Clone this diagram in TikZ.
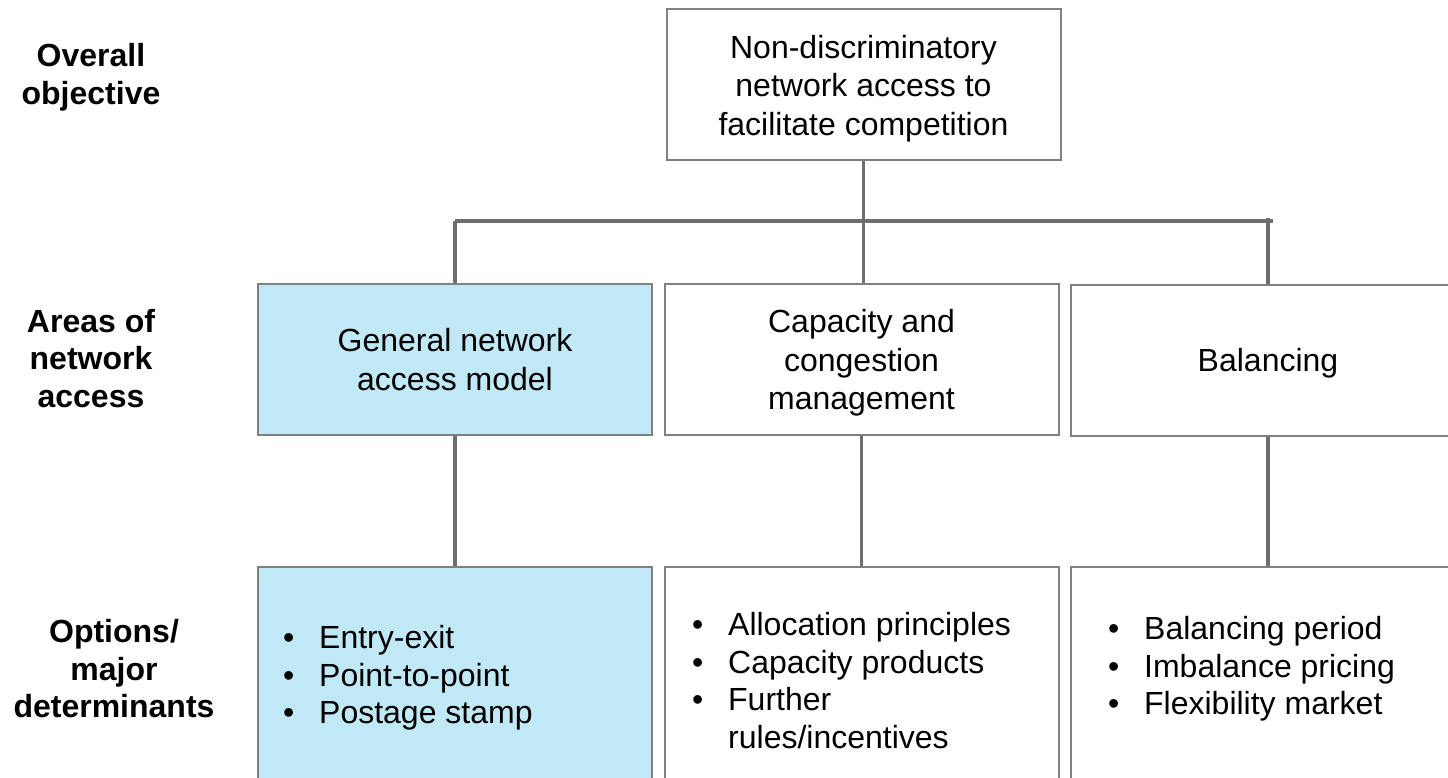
\documentclass[tikz,border=0pt]{standalone}
\usepackage{fontspec}
\setmainfont{Liberation Sans}
\definecolor{boxgray}{RGB}{128,128,128}
\definecolor{linegray}{RGB}{110,110,110}
\definecolor{paleblue}{RGB}{192,232,245}
\newcommand{\boxfont}{\fontsize{32}{38.5}\selectfont}
\newcommand{\lblfont}{\fontsize{32}{37.5}\selectfont\bfseries}
\newcommand{\bul}{\makebox[34pt][l]{\hspace*{-2pt}\textbullet}}
\begin{document}
\begin{tikzpicture}[x=1pt,y=-1pt,
  box/.style={draw=boxgray, line width=2pt, minimum width=394pt, minimum height=151pt, inner sep=0pt, align=center, text depth=0pt, font=\boxfont},
  tallbox/.style={box, minimum height=240pt},
  hl/.style={fill=paleblue},
  conn/.style={draw=linegray, line width=3.5pt},
  lbl/.style={font=\lblfont, align=center, inner sep=0pt, anchor=north},
  lst/.style={font=\fontsize{32}{37.5}\selectfont, align=left, inner sep=0pt, anchor=north west}]
\useasboundingbox (0,0) rectangle (1448,778);
\begin{scope}
\clip (0,0) rectangle (1448,778);
% boxes
\node[box] (top) at (863.5,85) {Non-discriminatory\\network access to\\facilitate competition};
\node[box,hl] (mid1) at (455,359.5) {General network\\access model};
\node[box] (mid2) at (861.5,359.5) {Capacity and\\congestion\\management};
\node[box] (mid3) at (1268,360) {Balancing};
\node[tallbox,hl] (bot1) at (455,687) {};
\node[tallbox] (bot2) at (861.5,687) {};
\node[tallbox] (bot3) at (1268,687) {};
% connectors
\coordinate (busL) at (455,221);
\coordinate (busR) at (1273,221);
\coordinate (tickR) at (1268,218);
\draw[conn] (top.south) -- (top.south |- mid2.north);
\draw[conn] (busL) -- (busR);
\draw[conn] (busL) -- (mid1.north);
\draw[conn] (tickR) -- (mid3.north);
\draw[conn] (mid1.south) -- (bot1.north);
\draw[conn] (mid2.south) -- (bot2.north);
\draw[conn] (mid3.south) -- (bot3.north);
% lists
\node[lst] (l1) at (285,625.5) {\bul Entry-exit\\\bul Point-to-point\\\bul Postage stamp};
\node[lst] (l2) at (694,612.5) {\bul Allocation principles\\\bul Capacity products\\\bul Further\\\hspace*{34pt}rules/incentives};
\node[lst] (l3) at (1110,616.5) {\bul Balancing period\\\bul Imbalance pricing\\\bul Flexibility market};
% left labels
\node[lbl] (ov) at (91,43.5) {Overall\\objective};
\node[lbl] (ar) at (91,309) {Areas of\\network\\access};
\node[lbl] (op) at (114,619.5) {Options/\\major\\determinants};
\end{scope}
\end{tikzpicture}
\end{document}
